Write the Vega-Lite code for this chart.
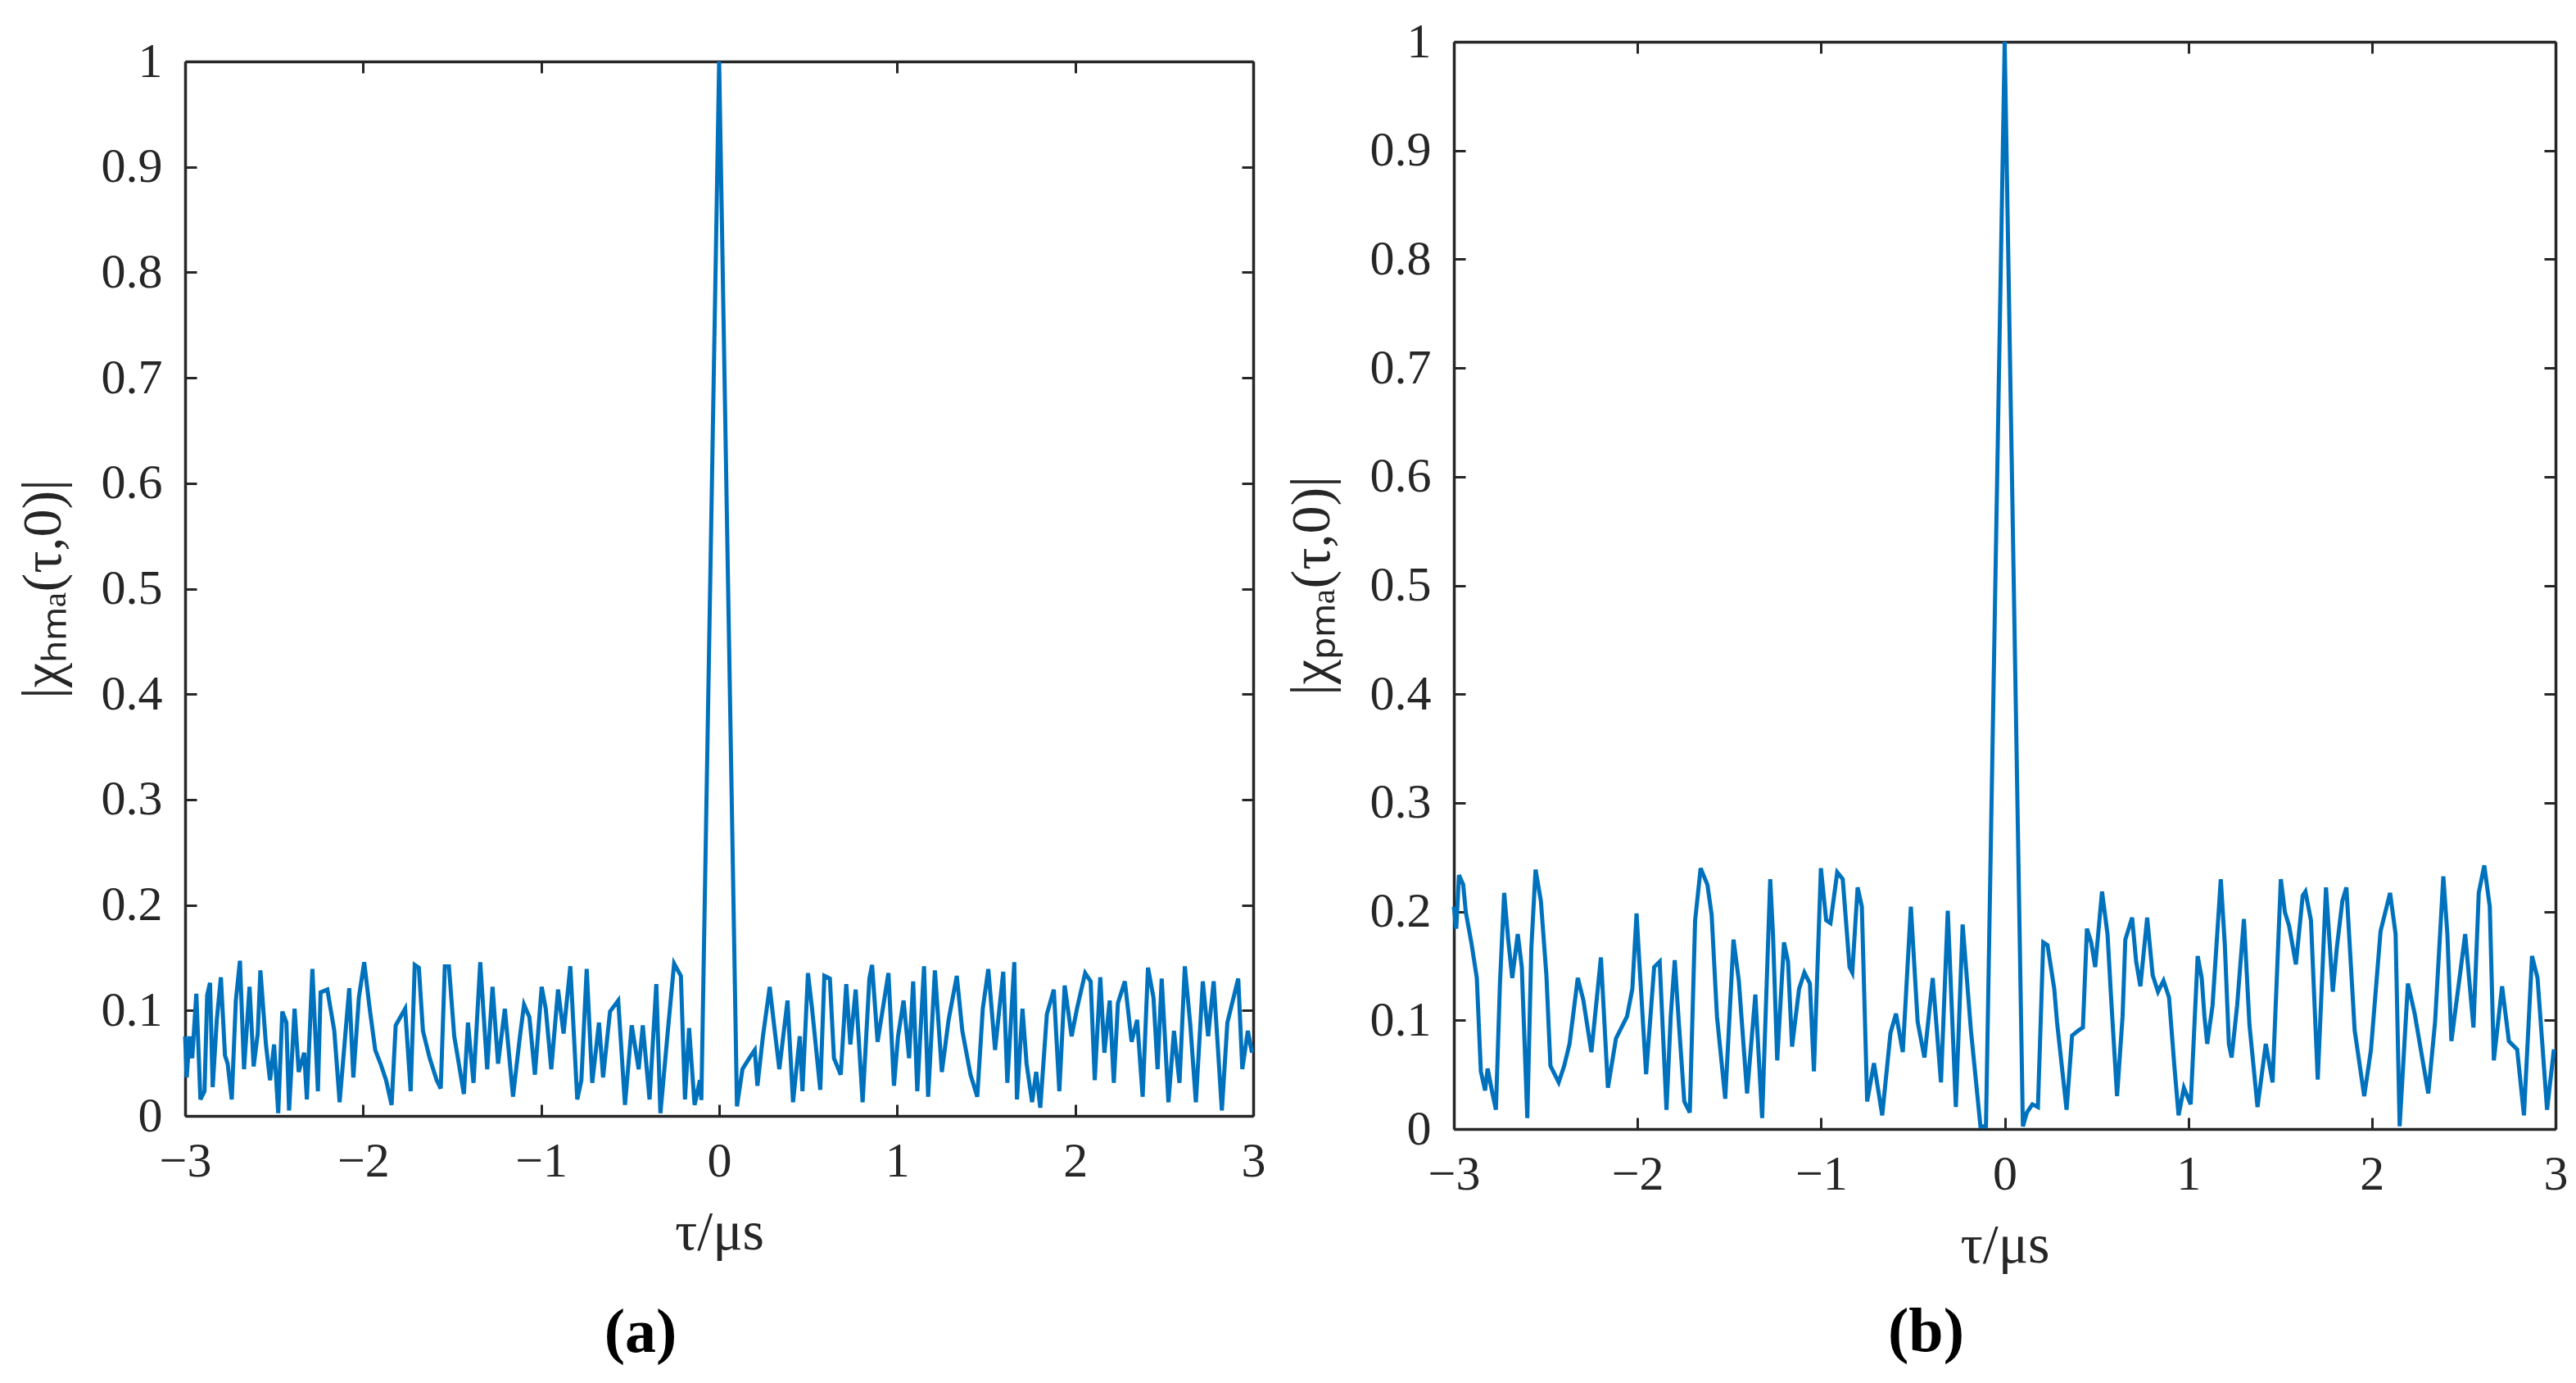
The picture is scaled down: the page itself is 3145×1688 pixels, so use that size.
{
  "$schema": "https://vega.github.io/schema/vega-lite/v6.json",
  "background": "white",
  "padding": {"left": 19, "top": 18, "right": 6, "bottom": 10},
  "spacing": 23,
  "center": true,
  "config": {
    "view": {"stroke": null},
    "font": "Liberation Serif",
    "axis": {
      "grid": false,
      "zindex": 1,
      "domainColor": "#262626",
      "domainWidth": 3.5,
      "tickColor": "#262626",
      "tickWidth": 3,
      "tickSize": -14,
      "labelFont": "Liberation Serif",
      "labelFontSize": 60,
      "labelColor": "#262626",
      "labelFlush": false,
      "labelOverlap": false,
      "titleFont": "Liberation Serif",
      "titleFontSize": 68,
      "titleFontWeight": "normal",
      "titleColor": "#262626"
    },
    "axisX": {"labelPadding": 40},
    "axisY": {"labelPadding": 42}
  },
  "datasets": {
    "hma": [
      {"tau": -3.0, "chi": 0.0755}, {"tau": -2.991, "chi": 0.0365}, {"tau": -2.975, "chi": 0.0755}, {"tau": -2.96, "chi": 0.0547},
      {"tau": -2.937, "chi": 0.1159}, {"tau": -2.914, "chi": 0.0156}, {"tau": -2.891, "chi": 0.0234}, {"tau": -2.876, "chi": 0.1146},
      {"tau": -2.86, "chi": 0.1263}, {"tau": -2.845, "chi": 0.0273}, {"tau": -2.822, "chi": 0.0911}, {"tau": -2.799, "chi": 0.1315},
      {"tau": -2.776, "chi": 0.0573}, {"tau": -2.761, "chi": 0.0495}, {"tau": -2.738, "chi": 0.0156}, {"tau": -2.715, "chi": 0.1094},
      {"tau": -2.692, "chi": 0.1471}, {"tau": -2.669, "chi": 0.0443}, {"tau": -2.638, "chi": 0.1224}, {"tau": -2.615, "chi": 0.0469},
      {"tau": -2.592, "chi": 0.0781}, {"tau": -2.577, "chi": 0.138}, {"tau": -2.546, "chi": 0.0677}, {"tau": -2.523, "chi": 0.0339},
      {"tau": -2.5, "chi": 0.0677}, {"tau": -2.477, "chi": 0.0026}, {"tau": -2.454, "chi": 0.099}, {"tau": -2.431, "chi": 0.0885},
      {"tau": -2.416, "chi": 0.0052}, {"tau": -2.385, "chi": 0.1016}, {"tau": -2.362, "chi": 0.0417}, {"tau": -2.331, "chi": 0.0599},
      {"tau": -2.316, "chi": 0.0156}, {"tau": -2.285, "chi": 0.1393}, {"tau": -2.254, "chi": 0.0234}, {"tau": -2.239, "chi": 0.1172},
      {"tau": -2.201, "chi": 0.1198}, {"tau": -2.162, "chi": 0.0807}, {"tau": -2.132, "chi": 0.013}, {"tau": -2.078, "chi": 0.1211},
      {"tau": -2.055, "chi": 0.0365}, {"tau": -2.024, "chi": 0.112}, {"tau": -1.994, "chi": 0.1458}, {"tau": -1.963, "chi": 0.1016},
      {"tau": -1.932, "chi": 0.0625}, {"tau": -1.902, "chi": 0.0495}, {"tau": -1.871, "chi": 0.0339}, {"tau": -1.84, "chi": 0.0104},
      {"tau": -1.817, "chi": 0.0859}, {"tau": -1.764, "chi": 0.1016}, {"tau": -1.733, "chi": 0.0234}, {"tau": -1.71, "chi": 0.1432},
      {"tau": -1.687, "chi": 0.1406}, {"tau": -1.664, "chi": 0.0807}, {"tau": -1.626, "chi": 0.0547}, {"tau": -1.587, "chi": 0.0339},
      {"tau": -1.564, "chi": 0.026}, {"tau": -1.541, "chi": 0.1419}, {"tau": -1.518, "chi": 0.1419}, {"tau": -1.488, "chi": 0.0755},
      {"tau": -1.434, "chi": 0.0208}, {"tau": -1.411, "chi": 0.0885}, {"tau": -1.38, "chi": 0.0313}, {"tau": -1.342, "chi": 0.1458},
      {"tau": -1.303, "chi": 0.0443}, {"tau": -1.273, "chi": 0.1224}, {"tau": -1.242, "chi": 0.0495}, {"tau": -1.204, "chi": 0.1016},
      {"tau": -1.158, "chi": 0.0182}, {"tau": -1.119, "chi": 0.0755}, {"tau": -1.096, "chi": 0.1055}, {"tau": -1.066, "chi": 0.0938},
      {"tau": -1.035, "chi": 0.0391}, {"tau": -0.997, "chi": 0.1224}, {"tau": -0.974, "chi": 0.1016}, {"tau": -0.943, "chi": 0.0443},
      {"tau": -0.905, "chi": 0.1198}, {"tau": -0.874, "chi": 0.0781}, {"tau": -0.836, "chi": 0.1419}, {"tau": -0.797, "chi": 0.0156},
      {"tau": -0.774, "chi": 0.0339}, {"tau": -0.744, "chi": 0.1393}, {"tau": -0.713, "chi": 0.0313}, {"tau": -0.675, "chi": 0.0885},
      {"tau": -0.652, "chi": 0.0365}, {"tau": -0.613, "chi": 0.099}, {"tau": -0.567, "chi": 0.1094}, {"tau": -0.529, "chi": 0.0104},
      {"tau": -0.491, "chi": 0.0859}, {"tau": -0.452, "chi": 0.0443}, {"tau": -0.429, "chi": 0.0859}, {"tau": -0.391, "chi": 0.0156},
      {"tau": -0.353, "chi": 0.125}, {"tau": -0.33, "chi": 0.0026}, {"tau": -0.291, "chi": 0.0755}, {"tau": -0.253, "chi": 0.1445},
      {"tau": -0.215, "chi": 0.1328}, {"tau": -0.192, "chi": 0.0156}, {"tau": -0.169, "chi": 0.0833}, {"tau": -0.138, "chi": 0.0104},
      {"tau": -0.108, "chi": 0.0339}, {"tau": -0.1, "chi": 0.015}, {"tau": 0.0, "chi": 1.0}, {"tau": 0.1, "chi": 0.0091},
      {"tau": 0.131, "chi": 0.0443}, {"tau": 0.169, "chi": 0.0547}, {"tau": 0.2, "chi": 0.0625}, {"tau": 0.215, "chi": 0.0286},
      {"tau": 0.246, "chi": 0.0755}, {"tau": 0.284, "chi": 0.1224}, {"tau": 0.307, "chi": 0.0885}, {"tau": 0.338, "chi": 0.0443},
      {"tau": 0.384, "chi": 0.1094}, {"tau": 0.415, "chi": 0.013}, {"tau": 0.453, "chi": 0.0755}, {"tau": 0.468, "chi": 0.0234},
      {"tau": 0.499, "chi": 0.1354}, {"tau": 0.522, "chi": 0.1016}, {"tau": 0.568, "chi": 0.0247}, {"tau": 0.591, "chi": 0.1328},
      {"tau": 0.622, "chi": 0.1302}, {"tau": 0.645, "chi": 0.0547}, {"tau": 0.683, "chi": 0.0391}, {"tau": 0.714, "chi": 0.125},
      {"tau": 0.737, "chi": 0.0677}, {"tau": 0.767, "chi": 0.1198}, {"tau": 0.806, "chi": 0.013}, {"tau": 0.844, "chi": 0.1302},
      {"tau": 0.859, "chi": 0.1432}, {"tau": 0.89, "chi": 0.0703}, {"tau": 0.951, "chi": 0.1354}, {"tau": 0.982, "chi": 0.0286},
      {"tau": 1.005, "chi": 0.0755}, {"tau": 1.036, "chi": 0.1094}, {"tau": 1.067, "chi": 0.0547}, {"tau": 1.09, "chi": 0.1276},
      {"tau": 1.113, "chi": 0.0234}, {"tau": 1.151, "chi": 0.1419}, {"tau": 1.174, "chi": 0.0182}, {"tau": 1.212, "chi": 0.138},
      {"tau": 1.251, "chi": 0.0417}, {"tau": 1.289, "chi": 0.0911}, {"tau": 1.335, "chi": 0.1328}, {"tau": 1.366, "chi": 0.0807},
      {"tau": 1.412, "chi": 0.0391}, {"tau": 1.45, "chi": 0.0182}, {"tau": 1.481, "chi": 0.1016}, {"tau": 1.512, "chi": 0.1393},
      {"tau": 1.55, "chi": 0.0625}, {"tau": 1.596, "chi": 0.1367}, {"tau": 1.619, "chi": 0.0313}, {"tau": 1.658, "chi": 0.1458},
      {"tau": 1.673, "chi": 0.0156}, {"tau": 1.704, "chi": 0.1016}, {"tau": 1.727, "chi": 0.0495}, {"tau": 1.758, "chi": 0.013},
      {"tau": 1.781, "chi": 0.0417}, {"tau": 1.804, "chi": 0.0078}, {"tau": 1.841, "chi": 0.0964}, {"tau": 1.88, "chi": 0.1198},
      {"tau": 1.911, "chi": 0.0234}, {"tau": 1.941, "chi": 0.1237}, {"tau": 1.98, "chi": 0.0755}, {"tau": 2.01, "chi": 0.1016},
      {"tau": 2.056, "chi": 0.1354}, {"tau": 2.087, "chi": 0.1276}, {"tau": 2.11, "chi": 0.0339}, {"tau": 2.141, "chi": 0.1315},
      {"tau": 2.164, "chi": 0.0599}, {"tau": 2.194, "chi": 0.1094}, {"tau": 2.217, "chi": 0.0313}, {"tau": 2.24, "chi": 0.1068},
      {"tau": 2.279, "chi": 0.1276}, {"tau": 2.317, "chi": 0.0703}, {"tau": 2.348, "chi": 0.0911}, {"tau": 2.379, "chi": 0.0182},
      {"tau": 2.409, "chi": 0.1406}, {"tau": 2.44, "chi": 0.112}, {"tau": 2.463, "chi": 0.0443}, {"tau": 2.486, "chi": 0.1302},
      {"tau": 2.524, "chi": 0.013}, {"tau": 2.555, "chi": 0.0807}, {"tau": 2.586, "chi": 0.0313}, {"tau": 2.616, "chi": 0.1419},
      {"tau": 2.647, "chi": 0.0859}, {"tau": 2.678, "chi": 0.013}, {"tau": 2.717, "chi": 0.1276}, {"tau": 2.747, "chi": 0.0755},
      {"tau": 2.778, "chi": 0.1276}, {"tau": 2.824, "chi": 0.0052}, {"tau": 2.855, "chi": 0.0885}, {"tau": 2.916, "chi": 0.1302},
      {"tau": 2.939, "chi": 0.0443}, {"tau": 2.97, "chi": 0.0807}, {"tau": 2.993, "chi": 0.0599}
    ],
    "pma": [
      {"tau": -3.0, "chi": 0.2045}, {"tau": -2.987, "chi": 0.1843}, {"tau": -2.972, "chi": 0.2336}, {"tau": -2.949, "chi": 0.2247},
      {"tau": -2.935, "chi": 0.1995}, {"tau": -2.905, "chi": 0.1717}, {"tau": -2.875, "chi": 0.1389}, {"tau": -2.853, "chi": 0.053},
      {"tau": -2.83, "chi": 0.0354}, {"tau": -2.816, "chi": 0.0556}, {"tau": -2.793, "chi": 0.0354}, {"tau": -2.771, "chi": 0.0177},
      {"tau": -2.749, "chi": 0.1338}, {"tau": -2.726, "chi": 0.2172}, {"tau": -2.704, "chi": 0.1742}, {"tau": -2.682, "chi": 0.1389},
      {"tau": -2.652, "chi": 0.1793}, {"tau": -2.63, "chi": 0.149}, {"tau": -2.6, "chi": 0.0101}, {"tau": -2.578, "chi": 0.1667},
      {"tau": -2.555, "chi": 0.2386}, {"tau": -2.526, "chi": 0.2096}, {"tau": -2.496, "chi": 0.1414}, {"tau": -2.474, "chi": 0.0581},
      {"tau": -2.429, "chi": 0.0429}, {"tau": -2.399, "chi": 0.0581}, {"tau": -2.37, "chi": 0.0783}, {"tau": -2.325, "chi": 0.1389},
      {"tau": -2.295, "chi": 0.1187}, {"tau": -2.251, "chi": 0.0707}, {"tau": -2.199, "chi": 0.1578}, {"tau": -2.161, "chi": 0.0379},
      {"tau": -2.117, "chi": 0.0833}, {"tau": -2.057, "chi": 0.1035}, {"tau": -2.028, "chi": 0.1288}, {"tau": -2.005, "chi": 0.1982},
      {"tau": -1.99, "chi": 0.154}, {"tau": -1.953, "chi": 0.0505}, {"tau": -1.909, "chi": 0.149}, {"tau": -1.879, "chi": 0.154},
      {"tau": -1.842, "chi": 0.0177}, {"tau": -1.819, "chi": 0.1035}, {"tau": -1.797, "chi": 0.1553}, {"tau": -1.775, "chi": 0.0985},
      {"tau": -1.745, "chi": 0.0253}, {"tau": -1.715, "chi": 0.0152}, {"tau": -1.686, "chi": 0.1919}, {"tau": -1.656, "chi": 0.2399},
      {"tau": -1.619, "chi": 0.2247}, {"tau": -1.596, "chi": 0.197}, {"tau": -1.567, "chi": 0.1035}, {"tau": -1.522, "chi": 0.0278},
      {"tau": -1.477, "chi": 0.1742}, {"tau": -1.448, "chi": 0.1364}, {"tau": -1.403, "chi": 0.0328}, {"tau": -1.358, "chi": 0.1237},
      {"tau": -1.321, "chi": 0.0101}, {"tau": -1.277, "chi": 0.2298}, {"tau": -1.262, "chi": 0.1793}, {"tau": -1.239, "chi": 0.0631},
      {"tau": -1.202, "chi": 0.1717}, {"tau": -1.18, "chi": 0.154}, {"tau": -1.158, "chi": 0.0758}, {"tau": -1.12, "chi": 0.1288},
      {"tau": -1.091, "chi": 0.1439}, {"tau": -1.061, "chi": 0.1338}, {"tau": -1.039, "chi": 0.053}, {"tau": -1.001, "chi": 0.2399},
      {"tau": -0.972, "chi": 0.1919}, {"tau": -0.949, "chi": 0.1894}, {"tau": -0.912, "chi": 0.2361}, {"tau": -0.882, "chi": 0.2298},
      {"tau": -0.845, "chi": 0.149}, {"tau": -0.83, "chi": 0.1439}, {"tau": -0.801, "chi": 0.2222}, {"tau": -0.778, "chi": 0.2045},
      {"tau": -0.749, "chi": 0.0253}, {"tau": -0.712, "chi": 0.0606}, {"tau": -0.667, "chi": 0.0126}, {"tau": -0.622, "chi": 0.0884},
      {"tau": -0.592, "chi": 0.1061}, {"tau": -0.555, "chi": 0.0707}, {"tau": -0.511, "chi": 0.2045}, {"tau": -0.474, "chi": 0.0985},
      {"tau": -0.437, "chi": 0.0657}, {"tau": -0.392, "chi": 0.1389}, {"tau": -0.347, "chi": 0.0429}, {"tau": -0.31, "chi": 0.2008},
      {"tau": -0.266, "chi": 0.0202}, {"tau": -0.229, "chi": 0.1881}, {"tau": -0.184, "chi": 0.0909}, {"tau": -0.132, "chi": 0.0025},
      {"tau": -0.102, "chi": 0.0025}, {"tau": 0.0, "chi": 1.0}, {"tau": 0.099, "chi": 0.0025}, {"tau": 0.121, "chi": 0.0152},
      {"tau": 0.151, "chi": 0.0227}, {"tau": 0.181, "chi": 0.0202}, {"tau": 0.21, "chi": 0.1717}, {"tau": 0.233, "chi": 0.1692},
      {"tau": 0.27, "chi": 0.1288}, {"tau": 0.285, "chi": 0.0985}, {"tau": 0.337, "chi": 0.0177}, {"tau": 0.367, "chi": 0.0859},
      {"tau": 0.404, "chi": 0.0909}, {"tau": 0.426, "chi": 0.0934}, {"tau": 0.448, "chi": 0.1843}, {"tau": 0.471, "chi": 0.1717},
      {"tau": 0.493, "chi": 0.149}, {"tau": 0.53, "chi": 0.2184}, {"tau": 0.56, "chi": 0.1793}, {"tau": 0.582, "chi": 0.1136},
      {"tau": 0.612, "chi": 0.0303}, {"tau": 0.642, "chi": 0.1035}, {"tau": 0.657, "chi": 0.1742}, {"tau": 0.694, "chi": 0.1944},
      {"tau": 0.716, "chi": 0.154}, {"tau": 0.739, "chi": 0.1313}, {"tau": 0.776, "chi": 0.1944}, {"tau": 0.806, "chi": 0.1414},
      {"tau": 0.835, "chi": 0.1263}, {"tau": 0.865, "chi": 0.1364}, {"tau": 0.895, "chi": 0.1212}, {"tau": 0.924, "chi": 0.0581},
      {"tau": 0.947, "chi": 0.0126}, {"tau": 0.976, "chi": 0.0379}, {"tau": 1.013, "chi": 0.0227}, {"tau": 1.051, "chi": 0.1591},
      {"tau": 1.073, "chi": 0.1389}, {"tau": 1.088, "chi": 0.1035}, {"tau": 1.103, "chi": 0.0783}, {"tau": 1.132, "chi": 0.1136},
      {"tau": 1.177, "chi": 0.2298}, {"tau": 1.199, "chi": 0.1692}, {"tau": 1.221, "chi": 0.0783}, {"tau": 1.236, "chi": 0.0657},
      {"tau": 1.266, "chi": 0.1136}, {"tau": 1.303, "chi": 0.1932}, {"tau": 1.333, "chi": 0.096}, {"tau": 1.377, "chi": 0.0202},
      {"tau": 1.422, "chi": 0.0783}, {"tau": 1.459, "chi": 0.0429}, {"tau": 1.504, "chi": 0.2298}, {"tau": 1.526, "chi": 0.1995},
      {"tau": 1.549, "chi": 0.1869}, {"tau": 1.586, "chi": 0.1515}, {"tau": 1.623, "chi": 0.2146}, {"tau": 1.638, "chi": 0.2184},
      {"tau": 1.668, "chi": 0.1919}, {"tau": 1.705, "chi": 0.0455}, {"tau": 1.75, "chi": 0.2222}, {"tau": 1.787, "chi": 0.1263},
      {"tau": 1.809, "chi": 0.1667}, {"tau": 1.839, "chi": 0.2096}, {"tau": 1.861, "chi": 0.2222}, {"tau": 1.906, "chi": 0.0909},
      {"tau": 1.958, "chi": 0.0303}, {"tau": 1.995, "chi": 0.0732}, {"tau": 2.047, "chi": 0.1818}, {"tau": 2.099, "chi": 0.2172},
      {"tau": 2.129, "chi": 0.1793}, {"tau": 2.151, "chi": 0.0025}, {"tau": 2.196, "chi": 0.1338}, {"tau": 2.233, "chi": 0.1061},
      {"tau": 2.307, "chi": 0.0328}, {"tau": 2.344, "chi": 0.0985}, {"tau": 2.389, "chi": 0.2323}, {"tau": 2.411, "chi": 0.1793},
      {"tau": 2.433, "chi": 0.0808}, {"tau": 2.456, "chi": 0.1111}, {"tau": 2.508, "chi": 0.1793}, {"tau": 2.553, "chi": 0.0934},
      {"tau": 2.582, "chi": 0.2172}, {"tau": 2.612, "chi": 0.2424}, {"tau": 2.642, "chi": 0.2045}, {"tau": 2.664, "chi": 0.0631},
      {"tau": 2.709, "chi": 0.1313}, {"tau": 2.746, "chi": 0.0808}, {"tau": 2.791, "chi": 0.0732}, {"tau": 2.828, "chi": 0.0126},
      {"tau": 2.872, "chi": 0.1591}, {"tau": 2.902, "chi": 0.1389}, {"tau": 2.954, "chi": 0.0177}, {"tau": 2.991, "chi": 0.0732}
    ]
  },
  "hconcat": [
    {
      "width": 1304,
      "height": 1287,
      "title": {"text": "(a)", "orient": "bottom", "anchor": "middle", "frame": "bounds", "font": "Liberation Serif", "fontSize": 76, "fontWeight": "bold", "color": "#000000", "offset": 52},
      "data": {"name": "hma"},
      "layer": [
        {
          "mark": {"type": "line", "color": "#0072BD", "strokeWidth": 5},
          "encoding": {
            "x": {"field": "tau", "type": "quantitative", "scale": {"domain": [-3, 3], "nice": false, "zero": false},
                  "axis": {"orient": "bottom", "values": [-3, -2, -1, 0, 1, 2, 3], "format": "~g", "title": "τ/μs", "titlePadding": 23}},
            "y": {"field": "chi", "type": "quantitative", "scale": {"domain": [0, 1], "nice": false},
                  "axis": {"orient": "left", "values": [0, 0.1, 0.2, 0.3, 0.4, 0.5, 0.6, 0.7, 0.8, 0.9, 1], "format": "~g", "title": "|χₕₘₐ(τ,0)|", "titlePadding": 36}}
          }
        },
        {
          "mark": {"type": "line", "opacity": 0},
          "encoding": {
            "x": {"field": "tau", "type": "quantitative", "axis": {"orient": "top", "values": [-3, -2, -1, 0, 1, 2, 3], "labels": false, "title": ".", "titleColor": "white", "titleFontSize": 20, "titlePadding": 35}},
            "y": {"field": "chi", "type": "quantitative", "axis": {"orient": "right", "values": [0, 0.1, 0.2, 0.3, 0.4, 0.5, 0.6, 0.7, 0.8, 0.9, 1], "labels": false, "title": null}}
          }
        }
      ],
      "resolve": {"axis": {"x": "independent", "y": "independent"}}
    },
    {
      "width": 1345,
      "height": 1327,
      "title": {"text": "(b)", "subtitle": ".", "subtitleColor": "white", "subtitleFontSize": 16, "subtitlePadding": 8, "orient": "bottom", "anchor": "middle", "frame": "bounds", "font": "Liberation Serif", "fontSize": 76, "fontWeight": "bold", "color": "#000000", "offset": 35},
      "data": {"name": "pma"},
      "layer": [
        {
          "mark": {"type": "line", "color": "#0072BD", "strokeWidth": 5},
          "encoding": {
            "x": {"field": "tau", "type": "quantitative", "scale": {"domain": [-3, 3], "nice": false, "zero": false},
                  "axis": {"orient": "bottom", "values": [-3, -2, -1, 0, 1, 2, 3], "format": "~g", "title": "τ/μs", "titlePadding": 23}},
            "y": {"field": "chi", "type": "quantitative", "scale": {"domain": [0, 1], "nice": false},
                  "axis": {"orient": "left", "values": [0, 0.1, 0.2, 0.3, 0.4, 0.5, 0.6, 0.7, 0.8, 0.9, 1], "format": "~g", "title": "|χₚₘₐ(τ,0)|", "titlePadding": 36}}
          }
        },
        {
          "mark": {"type": "line", "opacity": 0},
          "encoding": {
            "x": {"field": "tau", "type": "quantitative", "axis": {"orient": "top", "values": [-3, -2, -1, 0, 1, 2, 3], "labels": false, "title": null}},
            "y": {"field": "chi", "type": "quantitative", "axis": {"orient": "right", "values": [0, 0.1, 0.2, 0.3, 0.4, 0.5, 0.6, 0.7, 0.8, 0.9, 1], "labels": false, "title": null}}
          }
        }
      ],
      "resolve": {"axis": {"x": "independent", "y": "independent"}}
    }
  ]
}
